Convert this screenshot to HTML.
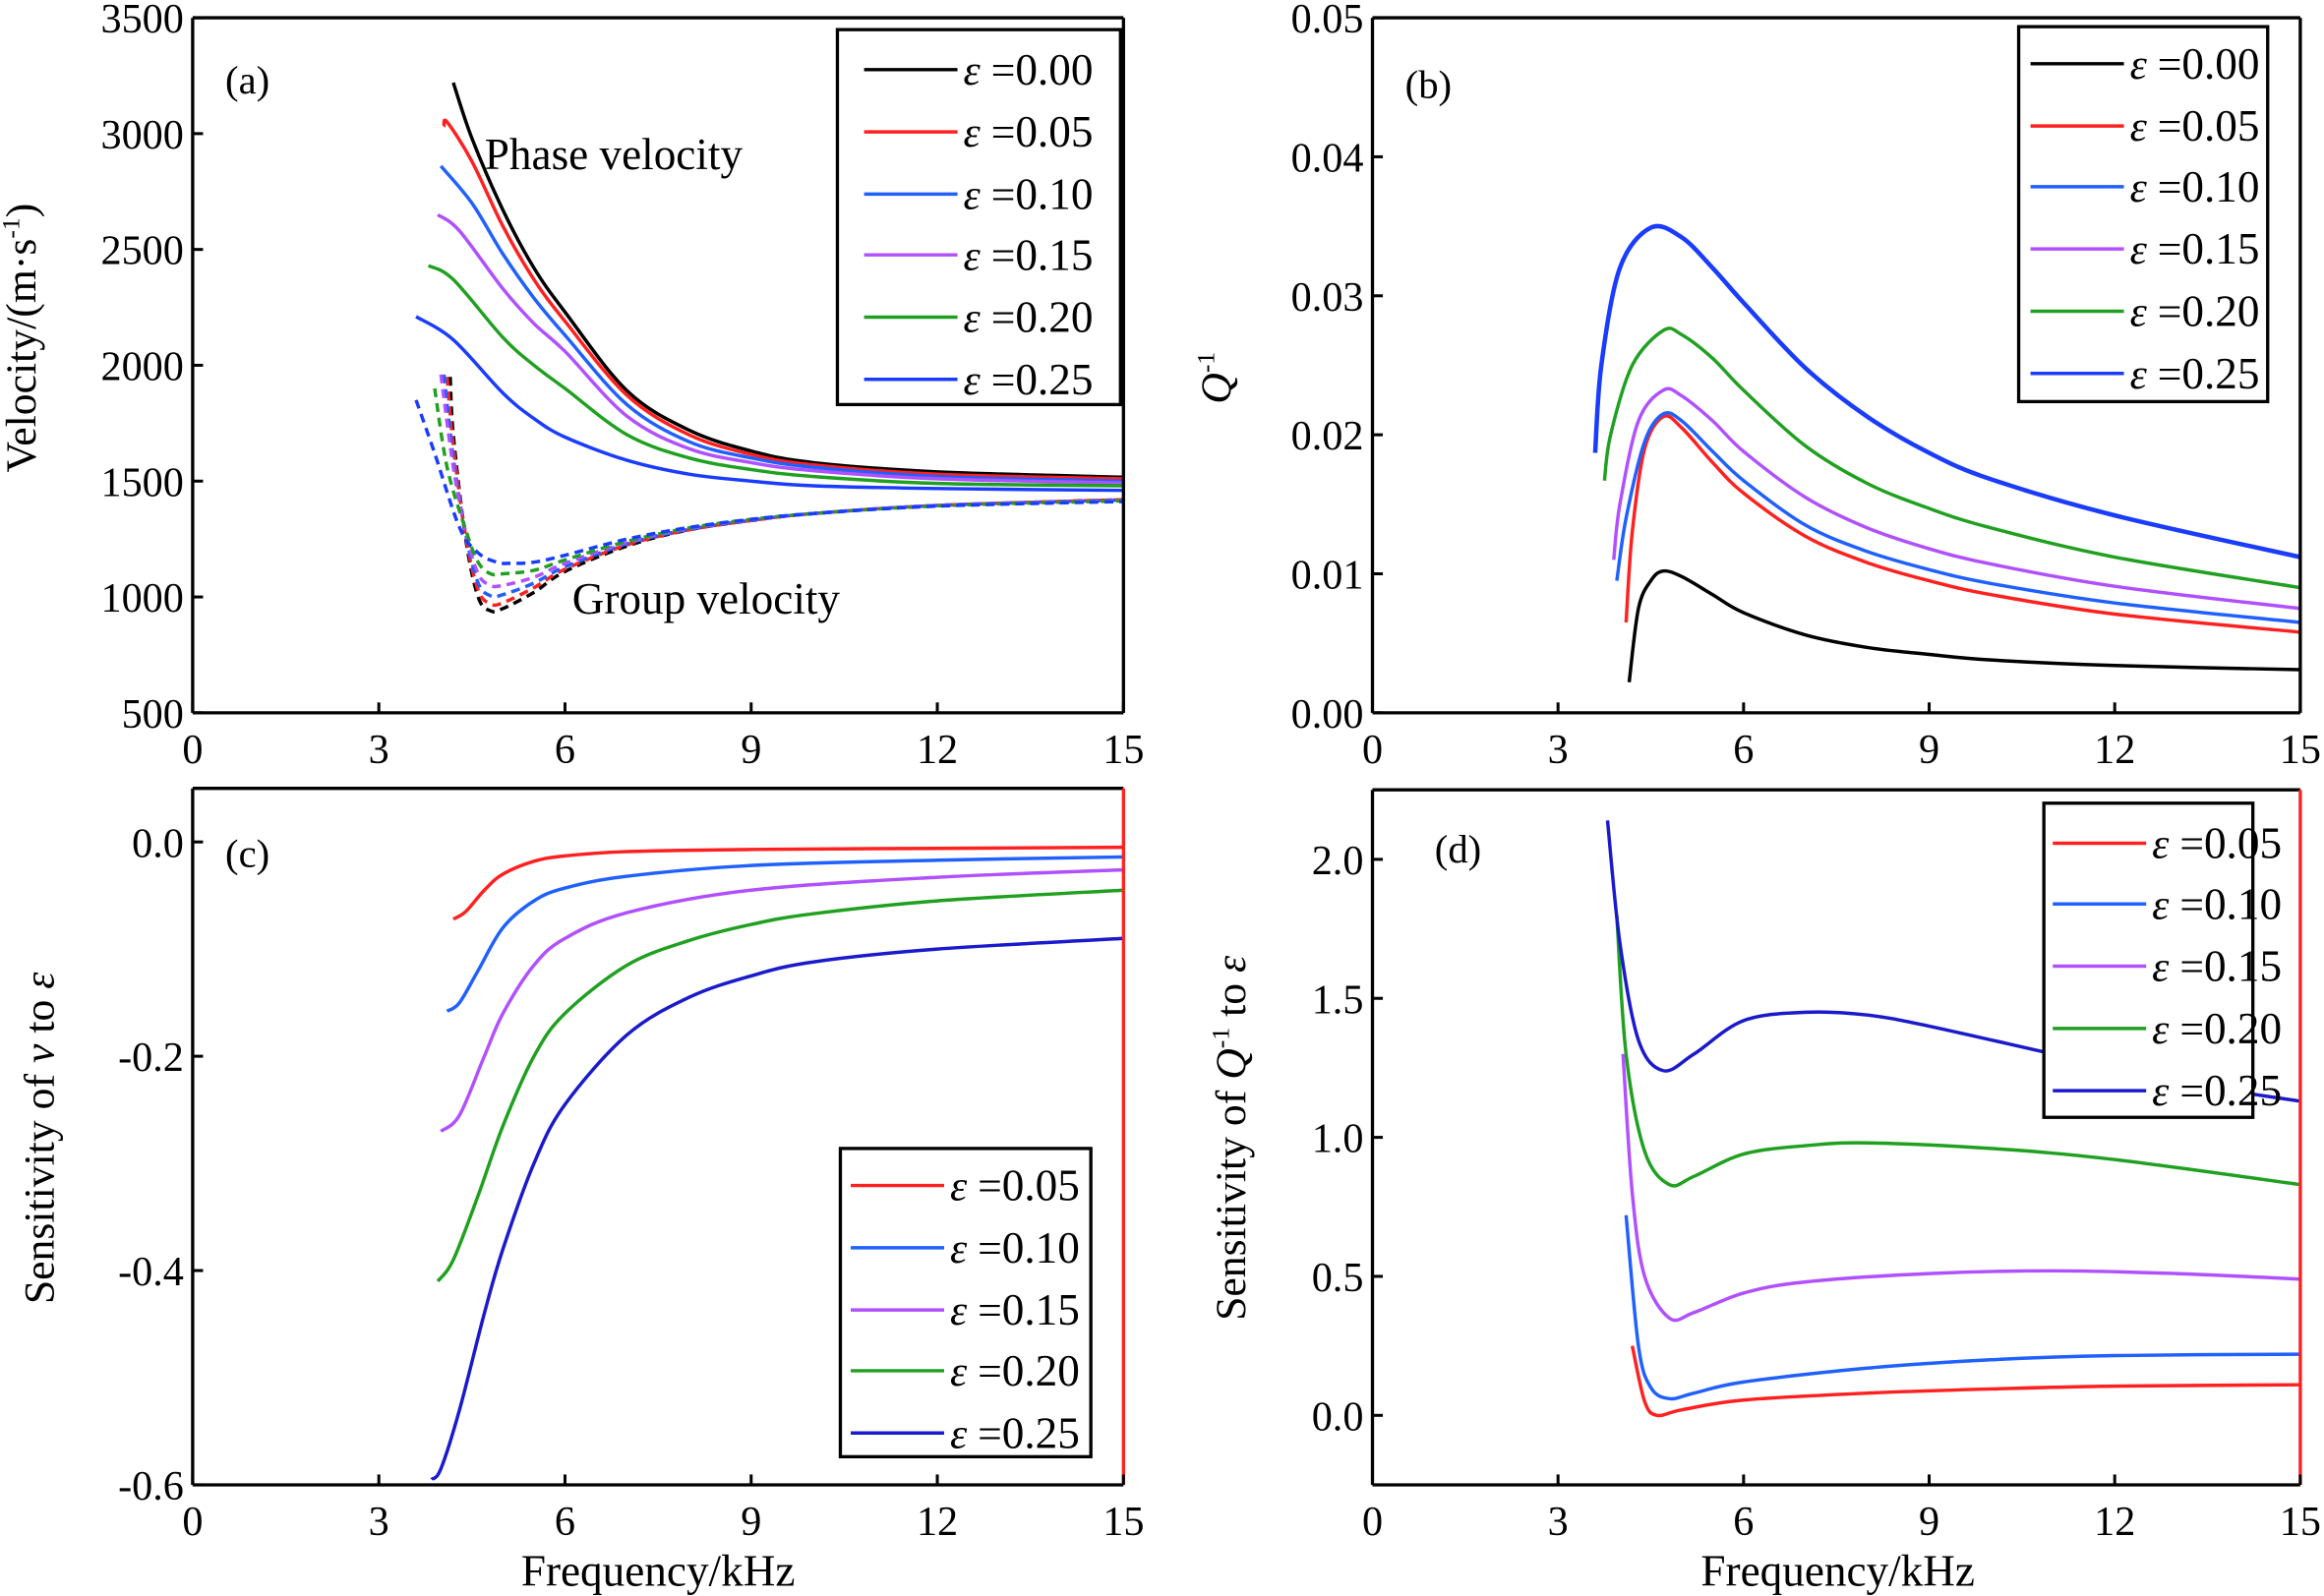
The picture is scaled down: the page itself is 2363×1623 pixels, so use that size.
<!DOCTYPE html>
<html><head><meta charset="utf-8"><style>
html,body{margin:0;padding:0;background:#fff;}
svg{display:block;}
text{font-family:"Liberation Serif",serif;fill:#000;}
</style></head>
<body>
<svg id="fig" width="2363" height="1623" viewBox="0 0 1568 1077" preserveAspectRatio="none" xmlns="http://www.w3.org/2000/svg"></svg>
<script>
// ---------- data ----------
const epsLabelsA = ["0.00","0.05","0.10","0.15","0.20","0.25"];
const epsLabelsC = ["0.05","0.10","0.15","0.20","0.25"];
const colorsA = ["#000000","#ff2020","#2060ff","#b050ff","#20a020","#1a3cff"];
const colorsC = ["#ff2020","#2060ff","#b050ff","#20a020","#1a1acc"];
const xTicks = [0,3,6,9,12,15];

// (a) phase velocity
const phaseF = [
 [4.2,4.5,5,5.5,6,7,8,9,10,12,15],
 [4.05,4.1,4.5,5,5.5,6,7,8,9,10,12,15],
 [4.0,4.5,5,5.5,6,7,8,9,10,12,15],
 [3.95,4.3,5,5.5,6,7,8,9,10,12,15],
 [3.8,4.2,5,5.5,6,7,8,9,10,12,15],
 [3.6,4.2,5,5.5,6,7,8,9,10,12,15]];
const phaseV = [
 [3220,2980,2670,2420,2230,1890,1720,1630,1580,1540,1517],
 [3030,3050,2880,2600,2370,2190,1870,1700,1615,1570,1530,1510],
 [2860,2700,2480,2290,2130,1830,1670,1600,1560,1520,1500],
 [2650,2580,2330,2180,2060,1780,1640,1580,1545,1510,1492],
 [2430,2370,2120,2000,1900,1700,1600,1550,1520,1490,1480],
 [2210,2110,1880,1770,1690,1590,1530,1500,1480,1468,1460]];
// (a) group velocity
const groupF = [
 [4.15,4.2,4.4,4.6,4.8,5,5.5,6,7,8,9,10,12,15],
 [4.1,4.2,4.4,4.6,4.8,5,5.5,6,7,8,9,10,12,15],
 [4.05,4.2,4.4,4.6,4.8,5,5.5,6,7,8,9,10,12,15],
 [4.0,4.2,4.4,4.6,4.8,5,5.5,6,7,8,9,10,12,15],
 [3.9,4.1,4.4,4.6,4.8,5,5.5,6,7,8,9,10,12,15],
 [3.6,3.9,4.3,4.6,4.9,5.1,5.5,6,7,8,9,10,12,15]];
const groupV = [
 [1950,1700,1250,1000,940,950,1020,1110,1220,1290,1330,1360,1395,1420],
 [1950,1650,1260,1030,970,975,1040,1120,1225,1290,1330,1360,1395,1420],
 [1960,1600,1270,1060,1005,1010,1060,1130,1230,1292,1332,1360,1395,1418],
 [1960,1560,1280,1100,1050,1050,1085,1145,1235,1295,1333,1360,1395,1418],
 [1900,1560,1290,1150,1100,1100,1115,1160,1240,1298,1335,1360,1393,1415],
 [1850,1620,1300,1190,1150,1145,1150,1180,1250,1300,1335,1360,1392,1412]];
// (b) Q^-1
const qF = [
 [4.15,4.3,4.5,4.7,5,5.5,6,7,8,9,10,12,15],
 [4.1,4.2,4.4,4.7,5,5.5,6,7,8,9,10,12,15],
 [3.95,4.1,4.4,4.7,5,5.5,6,7,8,9,10,12,15],
 [3.9,4.0,4.3,4.7,5,5.5,6,7,8,9,10,12,15],
 [3.75,3.85,4.2,4.7,5,5.5,6,7,8,9,10,12,15],
 [3.6,3.7,4.0,4.5,5,5.5,6,7,8,9,10,12,15]];
const qV = [
 [0.0022,0.0075,0.0095,0.0102,0.0098,0.0085,0.0072,0.0056,0.0047,0.0042,0.0038,0.0034,0.0031],
 [0.0065,0.013,0.019,0.0213,0.0205,0.018,0.0158,0.0127,0.0108,0.0095,0.0085,0.0071,0.0058],
 [0.0095,0.014,0.0195,0.0215,0.021,0.0188,0.0167,0.0135,0.0116,0.0103,0.0093,0.0079,0.0065],
 [0.011,0.015,0.021,0.0232,0.0228,0.021,0.0188,0.0155,0.0133,0.0118,0.0107,0.0091,0.0075],
 [0.0167,0.02,0.025,0.0275,0.0272,0.0255,0.0232,0.0192,0.0165,0.0147,0.0133,0.0112,0.009],
 [0.0187,0.025,0.032,0.0349,0.0342,0.032,0.0295,0.0248,0.0213,0.0187,0.0168,0.0142,0.0112]];
// (c) sensitivity of v
const svF = [
 [4.2,4.4,4.7,5,5.5,6,7,9,12,15],
 [4.1,4.3,4.6,5,5.5,6,7,9,12,15],
 [4.0,4.3,4.7,5,5.5,6,7,9,12,15],
 [3.95,4.2,4.6,5,5.5,6,7,8,9,10,12,15],
 [3.85,4.0,4.3,4.7,5,5.5,6,7,8,9,10,12,15]];
const svV = [
 [-0.072,-0.065,-0.045,-0.03,-0.018,-0.013,-0.009,-0.007,-0.006,-0.005],
 [-0.158,-0.15,-0.12,-0.08,-0.055,-0.043,-0.032,-0.022,-0.017,-0.014],
 [-0.27,-0.255,-0.2,-0.16,-0.115,-0.09,-0.066,-0.045,-0.033,-0.026],
 [-0.41,-0.39,-0.33,-0.265,-0.2,-0.16,-0.115,-0.092,-0.077,-0.067,-0.055,-0.045],
 [-0.595,-0.585,-0.53,-0.44,-0.38,-0.3,-0.245,-0.18,-0.145,-0.125,-0.112,-0.1,-0.09]];
// (d) sensitivity of Q^-1
const sqF = [
 [4.2,4.4,4.6,5,6,8,10,12,15],
 [4.1,4.3,4.5,4.8,5.2,6,8,10,12,15],
 [4.05,4.2,4.4,4.8,5.2,6,7,9,11,13,15],
 [3.95,4.1,4.4,4.8,5.2,6,7,8,10,12,15],
 [3.8,4.0,4.3,4.7,5.2,6,7,8,9,11,13,15]];
const sqV = [
 [0.25,0.05,0.0,0.02,0.055,0.08,0.095,0.105,0.11],
 [0.72,0.25,0.1,0.06,0.08,0.12,0.17,0.2,0.215,0.22],
 [1.3,0.8,0.5,0.35,0.37,0.44,0.48,0.51,0.52,0.51,0.49],
 [1.8,1.3,0.95,0.83,0.86,0.94,0.97,0.98,0.96,0.92,0.83],
 [2.14,1.7,1.35,1.24,1.3,1.42,1.45,1.44,1.4,1.3,1.2,1.13]];
const yTicksA = [500,1000,1500,2000,2500,3000,3500];
const yTicksB = [0,0.01,0.02,0.03,0.04,0.05];
const yTicksC = [0,-0.2,-0.4,-0.6];
const yTicksD = [0,0.5,1.0,1.5,2.0];

// ---------- drawing ----------
const NS="http://www.w3.org/2000/svg";
const svg=document.getElementById('fig');
function mk(tag,attrs,parent){const e=document.createElementNS(NS,tag);for(const k in attrs)e.setAttribute(k,attrs[k]);(parent||svg).appendChild(e);return e;}
function txt(s,x,y,size,anchor,parent,extra){const t=mk('text',Object.assign({x:x,y:y,'font-size':size,'text-anchor':anchor||'start'},extra||{}),parent);t.textContent=s;return t;}
function spline(pts){let d="M"+pts[0][0].toFixed(2)+","+pts[0][1].toFixed(2);
 for(let i=0;i<pts.length-1;i++){const p0=pts[i-1]||pts[i],p1=pts[i],p2=pts[i+1],p3=pts[i+2]||p2;
  const c1=[p1[0]+(p2[0]-p0[0])/6,p1[1]+(p2[1]-p0[1])/6],c2=[p2[0]-(p3[0]-p1[0])/6,p2[1]-(p3[1]-p1[1])/6];
  d+=" C"+c1[0].toFixed(2)+","+c1[1].toFixed(2)+" "+c2[0].toFixed(2)+","+c2[1].toFixed(2)+" "+p2[0].toFixed(2)+","+p2[1].toFixed(2);}
 return d;}
function panel(o){
 const g=mk('g',{});
 
 
 const sx=v=>o.x0+(v-0)/15*(o.x1-o.x0);
 const sy=v=>o.yb+(v-o.ymin)/(o.ymax-o.ymin)*(o.yt-o.yb);
 const clipId='clip-'+o.name;
 const cp=mk('clipPath',{id:clipId},g);mk('rect',{x:o.x0,y:o.yt,width:o.x1-o.x0,height:o.yb-o.yt},cp);
 o.series.forEach(s=>{
  const pts=s.f.map((f,i)=>[sx(f),sy(s.v[i])]);
  const p=mk('path',{d:spline(pts),fill:'none',stroke:s.color,'stroke-width':s.w||2.3,'stroke-dasharray':s.dash||'none','clip-path':'url(#'+clipId+')'},g);
  
  
 });
 mk('line',{x1:o.x0,y1:o.yt,x2:o.x1,y2:o.yt,stroke:'#000','stroke-width':2.2},g);
 mk('line',{x1:o.x0,y1:o.yt,x2:o.x0,y2:o.yb,stroke:'#000','stroke-width':2.2},g);
 mk('line',{x1:o.x0,y1:o.yb,x2:o.x1,y2:o.yb,stroke:'#000','stroke-width':2.2},g);
 mk('line',{x1:o.x1,y1:o.yt,x2:o.x1,y2:o.yb,stroke:o.rightColor||'#000','stroke-width':2.2},g);
 const xa=mk('g',{},g);
 
 
 xTicks.forEach(t=>{const x=sx(t);mk('line',{x1:x,y1:o.yb,x2:x,y2:o.yb-7,stroke:'#000','stroke-width':2},xa);
  txt(String(t),x,o.yb+34,28,'middle',xa);});
 const ya=mk('g',{},g);
 
 
 o.yticks.forEach(t=>{const y=sy(t);mk('line',{x1:o.x0,y1:y,x2:o.x0+7,y2:y,stroke:'#000','stroke-width':2},ya);
  txt(o.fmt(t),o.x0-6,y+10,28,'end',ya);});
 const L=o.legend;
 const lg=mk('g',{},g);
 
 
 mk('rect',{x:L.x,y:L.y,width:L.w,height:L.h,fill:'#fff',stroke:'#000','stroke-width':2.2},lg);
 L.labels.forEach((lab,i)=>{const y=L.ey[i];
  const e=mk('g',{},lg);
  
  
  mk('line',{x1:L.lx1,y1:y,x2:L.lx2,y2:y,stroke:L.colors[i],'stroke-width':2.3},e);
  const t=txt('',L.tx,y+10,29,'start',e);
  const a=document.createElementNS(NS,'tspan');a.setAttribute('font-style','italic');a.textContent='ε';t.appendChild(a);
  const b=document.createElementNS(NS,'tspan');b.textContent=' =';t.appendChild(b);
  const c=document.createElementNS(NS,'tspan');c.setAttribute('font-size','30');c.textContent=lab;t.appendChild(c);
 });
 return {g,sx,sy};
}
panel({name:'panel-a',x0:130,x1:758,yt:12,yb:481,ymin:500,ymax:3500,yticks:yTicksA,fmt:v=>String(v),
 series:phaseF.map((f,i)=>({f:f,v:phaseV[i],color:colorsA[i],name:'phase-velocity-eps-'+epsLabelsA[i]}))
  .concat(groupF.map((f,i)=>({f:f,v:groupV[i],color:colorsA[i],dash:'6,4',name:'group-velocity-eps-'+epsLabelsA[i]}))),
 legend:{x:565,y:20,w:191,h:253,ey:[47,89,131,172,214,256],lx1:583,lx2:646,tx:650,labels:epsLabelsA,colors:colorsA}});
panel({name:'panel-b',x0:926,x1:1552,yt:12,yb:481,ymin:0,ymax:0.05,yticks:yTicksB,fmt:v=>v.toFixed(2),
 series:qF.map((f,i)=>({f:f,v:qV[i],color:colorsA[i],w:i==5?3:2.3,name:'q-inverse-eps-'+epsLabelsA[i]})),
 legend:{x:1362,y:18,w:168,h:253,ey:[43,85,126,168,210,252],lx1:1370,lx2:1433,tx:1437,labels:epsLabelsA,colors:colorsA}});
panel({name:'panel-c',x0:130,x1:758,yt:532,yb:1002,ymin:-0.6,ymax:0.05,yticks:yTicksC,fmt:v=>v.toFixed(1),rightColor:'#ff2020',
 series:svF.map((f,i)=>({f:f,v:svV[i],color:colorsC[i],name:'sensitivity-v-eps-'+epsLabelsC[i]})),
 legend:{x:567,y:775,w:169,h:208,ey:[800,842,884,925,967],lx1:574,lx2:637,tx:641,labels:epsLabelsC,colors:colorsC}});
panel({name:'panel-d',x0:926,x1:1552,yt:533,yb:1002,ymin:-0.25,ymax:2.25,yticks:yTicksD,fmt:v=>v.toFixed(1),rightColor:'#ff2020',
 series:sqF.map((f,i)=>({f:f,v:sqV[i],color:colorsC[i],name:'sensitivity-q-eps-'+epsLabelsC[i]})),
 legend:{x:1379,y:542,w:141,h:212,ey:[569,610,652,694,736],lx1:1385,lx2:1448,tx:1452,labels:epsLabelsC,colors:colorsC}});

[['(a)',152,63],['(b)',948,66],['(c)',152,585],['(d)',968,582]].forEach(p=>{
 const t=txt(p[0],p[1],p[2],27,'start');
 
 });
let t1=txt('Phase velocity',327,114,30,'start');


let t2=txt('Group velocity',386,414,30,'start');


let xl1=txt('Frequency/kHz',444,1070,30,'middle');


let xl2=txt('Frequency/kHz',1240,1070,30,'middle');


function ylab(parts,x,y){const t=mk('text',{x:0,y:0,'font-size':29,'text-anchor':'middle',transform:'translate('+x+','+y+') rotate(-90)'});
 
 
 parts.forEach(p=>{const s=document.createElementNS(NS,'tspan');if(p.i)s.setAttribute('font-style','italic');if(p.sup){s.setAttribute('font-size','17');s.setAttribute('dy','-11');}if(p.down){s.setAttribute('dy','11');}s.textContent=p.t;t.appendChild(s);});
}
ylab([{t:'Velocity/(m·s'},{t:'-1',sup:1},{t:')',down:1}],24,228);
ylab([{t:'Q',i:1},{t:'-1',sup:1}],830,255);
ylab([{t:'Sensitivity of '},{t:'v',i:1},{t:' to '},{t:'ε',i:1}],36,768);
ylab([{t:'Sensitivity of '},{t:'Q',i:1},{t:'-1',sup:1},{t:' to ',down:1},{t:'ε',i:1}],840,768);
</script>
</body></html>
